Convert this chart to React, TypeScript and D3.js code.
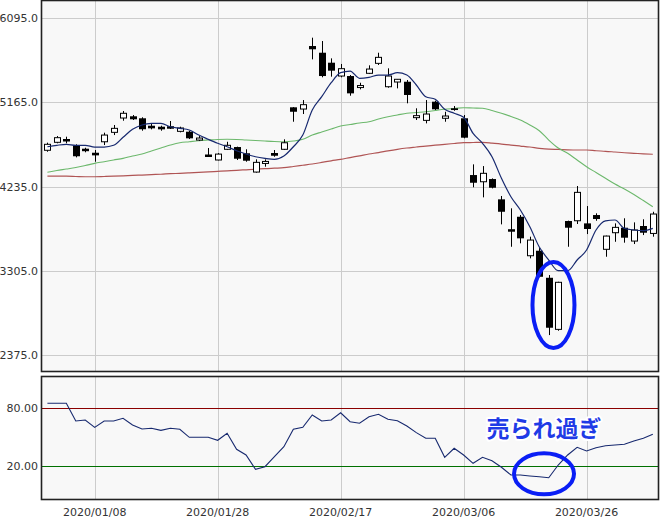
import React from 'react';
import * as d3 from 'd3';

const W = 660;
const H = 517;

const opens = [4636,4724,4755,4686,4648,4609,4730,4834,4992,5011,4989,4907,4896,4896,4845,4841,4749,4584,4529,4647,4672,4603,4396,4507,4606,4647,5110,5091,5786,5712,5602,5455,5455,5345,5485,5595,5337,5389,5392,5010,4966,5172,4989,5099,4989,4363,4289,4319,4095,3760,3903,3473,3528,3230,2661,3856,3859,3830,3922,3544,3727,3782,3635,3801,3719];
const highs = [4720,4793,4786,4702,4664,4639,4830,4915,5069,5025,5000,4926,4907,4959,4896,4852,4793,4661,4605,4730,4676,4647,4536,4536,4639,4757,5112,5190,5878,5841,5650,5588,5466,5381,5573,5712,5540,5422,5411,5099,5190,5183,5061,5124,5025,4481,4462,4326,4132,3996,3922,3683,3558,3260,3186,3860,4242,4021,3941,3695,3830,3886,3841,3875,3958];
const lows = [4620,4713,4713,4558,4614,4510,4694,4804,4962,4970,4852,4867,4852,4871,4834,4760,4738,4576,4525,4639,4529,4510,4389,4455,4565,4639,4951,5036,5639,5441,5448,5441,5238,5308,5477,5577,5326,5319,5154,4970,4933,5080,4951,5072,4768,4228,4117,4216,3819,3572,3610,3444,3235,2598,2646,3572,3823,3712,3859,3462,3627,3617,3602,3701,3683];
const closes = [4702,4775,4750,4570,4638,4580,4804,4878,5044,4978,4868,4878,4867,4890,4882,4768,4771,4580,4594,4691,4543,4521,4503,4513,4576,4719,5061,5139,5750,5455,5514,5536,5264,5350,5532,5661,5455,5419,5246,5018,5036,5088,5014,5080,4775,4278,4382,4223,3958,3754,3665,3646,3241,2679,3180,3782,4172,3768,3878,3690,3786,3672,3757,3727,3933];

const ma5 = [4675,4691,4702,4691,4691,4672,4672,4691,4779,4867,4915,4933,4933,4896,4878,4860,4804,4757,4713,4675,4631,4595,4565,4547,4536,4573,4675,4804,5080,5227,5381,5492,5510,5430,5441,5466,5466,5492,5466,5356,5227,5198,5088,5044,5000,4823,4713,4565,4327,4124,3977,3793,3569,3426,3308,3308,3426,3536,3757,3858,3867,3775,3757,3749,3775];
const ma25 = [4393,4413,4429,4446,4468,4492,4510,4529,4547,4573,4595,4628,4661,4694,4720,4731,4742,4749,4755,4757,4755,4749,4744,4738,4733,4731,4738,4757,4804,4838,4871,4904,4920,4937,4951,4981,5006,5025,5044,5053,5061,5075,5088,5097,5106,5102,5099,5075,5044,5009,4970,4915,4852,4749,4661,4603,4529,4455,4391,4327,4264,4209,4148,4082,4014];
const ma75 = [4352,4352,4350,4347,4344,4344,4347,4350,4354,4359,4363,4368,4372,4378,4382,4387,4393,4398,4404,4410,4415,4421,4427,4434,4439,4444,4457,4471,4485,4502,4520,4536,4556,4575,4595,4611,4630,4647,4661,4672,4683,4692,4702,4711,4720,4722,4724,4716,4705,4694,4683,4672,4658,4648,4645,4641,4639,4639,4631,4625,4617,4609,4603,4597,4592];

const osc = [85.2,85.2,85.2,66.9,67.9,60.3,66.9,66.9,69.7,62.7,58.6,59.3,57.2,59.3,58.3,50.0,50.0,50.0,46.9,54.1,37.6,31.7,16.9,19.6,29.9,40.3,58.3,60.3,73.1,66.9,67.9,75.4,66.1,64.5,71.3,73.8,68.6,67.2,61.7,54.8,49.0,49.0,29.3,38.6,31.7,23.1,29.3,25.8,19.0,11.0,11.0,10.0,9.2,8.2,21.3,31.7,39.7,35.8,39.2,41.3,42.0,42.8,46.2,49.0,53.1];

const dateLabels = ['2020/01/08', '2020/01/28', '2020/02/17', '2020/03/06', '2020/03/26'];
const dateIndex = [5, 18, 31, 44, 57];
const priceTicks = [6095, 5165, 4235, 3305, 2375];
const oscTicks = [80, 20];
const oscLineColors = ['#8b0000', '#007000'];
const annotation = '売られ過ぎ';

const FONT = 'DejaVu Sans, Verdana, sans-serif';

export default function App() {
  const idx = d3.range(opens.length);
  const x = d3.scaleLinear().domain([0, opens.length - 1]).range([47.4, 652.8]);
  const y = d3.scaleLinear().domain([2375, 6095]).range([355.3, 18]);
  const y2 = d3.scaleLinear().domain([20, 80]).range([466.3, 408.3]);

  const P1 = { left: 41.5, right: 658.5, top: 0.5, bottom: 371.5 };
  const P2 = { left: 41.5, right: 658.5, top: 376.5, bottom: 499.5 };

  const maLine = (arr: number[]) =>
    d3.line<number>().x((_, i) => x(i)).y((d) => y(d)).curve(d3.curveMonotoneX)(arr) || '';
  const oscLine = d3.line<number>().x((_, i) => x(i)).y((d) => y2(d))(osc) || '';

  const snap = (v: number) => Math.round(v) + 0.5;

  // annotation anchors from data
  const lowIdx = d3.minIndex(lows);
  const e1cx = (x(lowIdx) + x(lowIdx + 1)) / 2;
  const e1top = y(Math.max(highs[lowIdx], highs[lowIdx + 1]));
  const e1bot = y(Math.min(lows[lowIdx], lows[lowIdx + 1]));
  const e1cy = (e1top + e1bot) / 2;
  const e1ry = (e1bot - e1top) / 2 + 13;

  const oscMinIdx = d3.minIndex(osc);
  const e2cx = (x(oscMinIdx - 1) + x(oscMinIdx)) / 2;
  const e2cy = y2(osc[oscMinIdx] + 4);

  return (
    <svg width={W} height={H} style={{ position: 'absolute', left: 0, top: 0, display: 'block', background: '#fff' }}>
      {/* Top panel */}
      <rect x={P1.left} y={P1.top} width={P1.right - P1.left} height={P1.bottom - P1.top} fill="#f8f8f8" />
      {priceTicks.map((t) => (
        <line key={'hg' + t} x1={P1.left} x2={P1.right} y1={snap(y(t))} y2={snap(y(t))} stroke="#cccccc" strokeWidth={1} />
      ))}
      {dateIndex.map((d) => (
        <line key={'vg' + d} x1={snap(x(d))} x2={snap(x(d))} y1={P1.top} y2={P1.bottom} stroke="#cccccc" strokeWidth={1} />
      ))}
      <path d={maLine(ma75)} fill="none" stroke="#b05555" strokeWidth={1.2} />
      <path d={maLine(ma25)} fill="none" stroke="#6cb86c" strokeWidth={1.1} />
      {idx.map((i) => {
        const cx = Math.round(x(i)) + 0.5;
        const up = closes[i] >= opens[i];
        const top = y(Math.max(opens[i], closes[i]));
        const bot = y(Math.min(opens[i], closes[i]));
        const bh = Math.max(bot - top, 1.5);
        return (
          <g key={'c' + i}>
            <line x1={cx} x2={cx} y1={y(highs[i])} y2={y(lows[i])} stroke="#000" strokeWidth={1} />
            {up ? (
              <rect x={cx - 3} y={top} width={6} height={Math.max(bh, 2)} fill="#fff" stroke="#000" strokeWidth={1} />
            ) : (
              <rect x={cx - 3.5} y={top - (bh === 1.5 ? 0.5 : 0)} width={7} height={bh === 1.5 ? 2.5 : bh} fill="#000" />
            )}
          </g>
        );
      })}
      <path d={maLine(ma5)} fill="none" stroke="#17296f" strokeWidth={1.2} />
      <rect x={P1.left} y={P1.top} width={P1.right - P1.left} height={P1.bottom - P1.top} fill="none" stroke="#222" strokeWidth={1.6} />
      {priceTicks.map((t) => (
        <text key={'pt' + t} x={38} y={y(t) + 4} textAnchor="end" fontFamily={FONT} fontSize={11} fill="#333">
          {t.toFixed(1)}
        </text>
      ))}
      <ellipse cx={e1cx} cy={e1cy} rx={21} ry={e1ry} fill="none" stroke="#0a1ef5" strokeWidth={4} />

      {/* Bottom panel */}
      <rect x={P2.left} y={P2.top} width={P2.right - P2.left} height={P2.bottom - P2.top} fill="#f8f8f8" />
      {dateIndex.map((d) => (
        <line key={'vg2' + d} x1={snap(x(d))} x2={snap(x(d))} y1={P2.top} y2={P2.bottom} stroke="#cccccc" strokeWidth={1} />
      ))}
      {oscTicks.map((t, k) => (
        <line key={'ol' + t} x1={P2.left} x2={P2.right} y1={snap(y2(t))} y2={snap(y2(t))} stroke={oscLineColors[k]} strokeWidth={1} />
      ))}
      <path d={oscLine} fill="none" stroke="#17296f" strokeWidth={1.1} />
      <rect x={P2.left} y={P2.top} width={P2.right - P2.left} height={P2.bottom - P2.top} fill="none" stroke="#222" strokeWidth={1.6} />
      {oscTicks.map((t) => (
        <text key={'ot' + t} x={38} y={y2(t) + 4} textAnchor="end" fontFamily={FONT} fontSize={11} fill="#333">
          {t.toFixed(2)}
        </text>
      ))}
      {dateIndex.map((d, k) => (
        <text key={'dl' + d} x={x(d)} y={515.5} textAnchor="middle" fontFamily={FONT} fontSize={11} fill="#333">
          {dateLabels[k]}
        </text>
      ))}
      <ellipse cx={e2cx} cy={e2cy} rx={30} ry={20.5} fill="none" stroke="#0a1ef5" strokeWidth={4} />
      <text
        x={e2cx}
        y={437}
        textAnchor="middle"
        fontFamily="Noto Sans CJK JP, sans-serif"
        fontWeight="bold"
        fontSize={23}
        fill="#1f3be6"
        stroke="#ffffff"
        strokeWidth={4}
        strokeLinejoin="round"
        style={{ paintOrder: 'stroke' }}
      >
        {annotation}
      </text>
    </svg>
  );
}
